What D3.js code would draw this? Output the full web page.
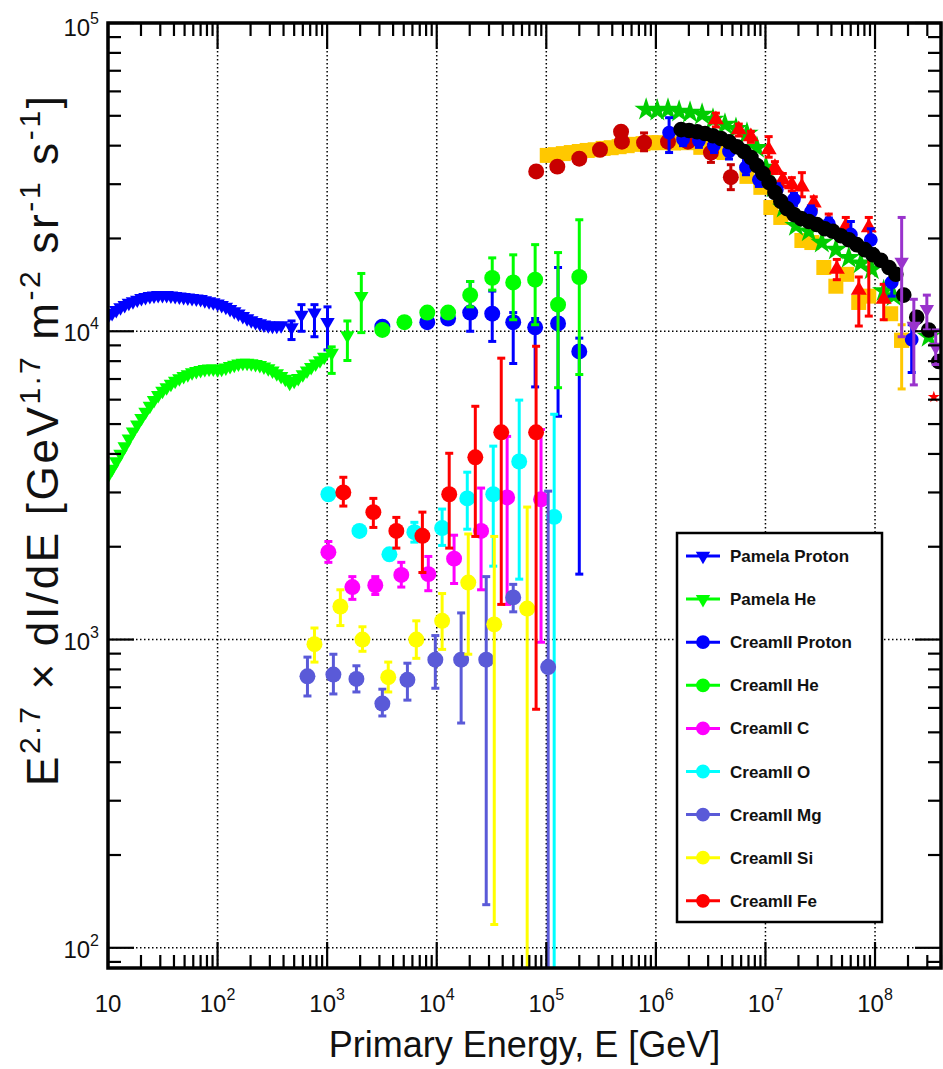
<!DOCTYPE html>
<html>
<head>
<meta charset="utf-8">
<script src="https://cdn.jsdelivr.net/npm/d3@7"></script>
<style>
  html, body { margin: 0; padding: 0; background: #fff; }
  svg { display: block; font-family: "Liberation Sans", Arial, Helvetica, sans-serif; }
</style>
</head>
<body>
<div id="chart"></div>
<script>
// ---- axes ----
const xDomain = [10, 4e8];
const yDomain = [86, 1e5];
const xLabelExp = [1, 2, 3, 4, 5, 6, 7, 8];
const yLabelExp = [2, 3, 4, 5];
const xGridExp = [2, 3, 4, 5, 6, 7, 8];
const yGridExp = [2, 3, 4];

// ---- Pamela proton (dense part + points with errors) ----
const pamProtonE = [10, 10.9, 11.9, 13, 14.2, 15.5, 16.9, 18.5, 20.2, 22, 24.1, 26.3, 28.7, 31.4, 34.3, 37.5, 41, 44.8, 49, 53.5,
  58.5, 64, 70, 76.5, 83.6, 91.4, 100, 109, 119, 130, 142, 155, 170, 186, 203, 222, 243, 265, 290, 317, 347, 380];
const pamProtonV = [11200, 11450, 11700, 11950, 12150, 12350, 12500, 12650, 12800, 12900, 13000, 13050, 13100, 13100, 13100, 13050, 13000, 12950, 12900, 12850,
  12800, 12750, 12700, 12600, 12500, 12400, 12300, 12150, 12000, 11800, 11600, 11400, 11200, 11000, 10850, 10700, 10600, 10500, 10450, 10400, 10400, 10450];
const pamProtonTailE = [473, 583, 766, 1007];
const pamProtonTailV = [10300, 11300, 11500, 10700];
const pamProtonTailLo = [9400, 10000, 9600, 8700];
const pamProtonTailHi = [10800, 12200, 12200, 12000];

// ---- Pamela He ----
const pamHeE = [10, 10.9, 11.9, 13, 14.2, 15.5, 16.9, 18.5, 20.2, 22, 24.1, 26.3, 28.7, 31.4, 34.3, 37.5, 41, 44.8, 49, 53.5,
  58.5, 64, 70, 76.5, 83.6, 91.4, 100, 109, 119, 130, 142, 155, 170, 186, 203, 222, 243, 265, 290, 317, 347, 380,
  415, 455, 500, 545, 600, 655, 715, 785, 860, 940];
const pamHeV = [3400, 3580, 3780, 4000, 4230, 4480, 4720, 4980, 5230, 5480, 5730, 5980, 6200, 6400, 6580, 6750, 6900, 7030, 7150, 7250,
  7350, 7420, 7480, 7530, 7560, 7560, 7520, 7550, 7620, 7700, 7780, 7850, 7900, 7900, 7870, 7820, 7760, 7680, 7580, 7450, 7300, 7150,
  7000, 6800, 6900, 7050, 7250, 7450, 7650, 7850, 8050, 8250];
const pamHeTailE = [1100, 1530, 2050];
const pamHeTailV = [8500, 9700, 13000];
const pamHeTailLo = [7300, 8040, 9900];
const pamHeTailHi = [8900, 10800, 15400];

// ---- CREAM II ----
const crProtonE = [3190, 8200, 12700, 20200, 32100, 49900, 79100, 128000, 200000];
const crProtonV = [10350, 10700, 11000, 11500, 11400, 10700, 10300, 10600, 8600];
const crProtonLo = [null, null, null, 10000, 9270, 7860, 6600, 5300, 1630];
const crProtonHi = [null, null, null, 14500, 13500, 11500, 11000, 16100, 9500];

const crHeE = [3190, 5070, 8200, 12700, 20200, 32100, 49900, 79100, 128000, 200000];
const crHeV = [10100, 10700, 11500, 11500, 13100, 14900, 14400, 14700, 12200, 15000];
const crHeLo = [null, null, null, null, 12000, 13600, 10900, 10500, 6560, 7240];
const crHeHi = [null, null, null, null, 14500, 17300, 17700, 19100, 18000, 23000];

const crCE = [1026, 1698, 2750, 4750, 8380, 14400, 25400, 43900, 89500];
const crCV = [1920, 1480, 1500, 1620, 1630, 1830, 2250, 2890, 2850];
const crCLo = [1780, 1350, 1400, 1480, 1440, 1520, 1450, 1300, 980];
const crCHi = [2080, 1600, 1600, 1780, 1860, 2180, 3100, 4560, 4800];

const crOE = [1026, 1970, 3700, 6250, 11200, 19000, 32800, 56600, 118000];
const crOV = [2960, 2250, 1890, 2230, 2300, 2870, 2960, 3780, 2500];
const crOLo = [null, null, null, 2070, 2020, 2280, 1730, 1570, 10];
const crOHi = [null, null, null, 2400, 2650, 3490, 4240, 5980, 5380];

const crMgE = [661, 1140, 1850, 3190, 5400, 9710, 16700, 28300, 49900, 104000];
const crMgV = [760, 770, 745, 620, 740, 860, 860, 860, 1370, 814];
const crMgLo = [656, 666, 676, 565, 636, 695, 536, 138, 1230, 10];
const crMgHi = [877, 896, 822, 690, 838, 1030, 1220, 1600, 1510, 3030];

const crSiE = [766, 1320, 2100, 3610, 6510, 11200, 19400, 33500, 66900];
const crSiV = [966, 1280, 1000, 755, 1000, 1150, 1530, 1120, 1260];
const crSiLo = [845, 1110, 916, 676, 869, 929, 896, 119, 10];
const crSiHi = [1090, 1450, 1100, 845, 1150, 1410, 2200, 2160, 2690];

const crFeE = [1405, 2640, 4280, 7400, 13000, 22500, 38800, 80700];
const crFeV = [3000, 2590, 2250, 2170, 2960, 3900, 4700, 4700];
const crFeLo = [2710, 2310, 1980, 1650, 1980, 2160, 1300, 594];
const crFeHi = [3360, 2870, 2490, 2590, 4020, 5710, 8180, 8940];

// ---- knee-region data (not in legend) ----
const orangeE = [1.02e5, 1.21e5, 1.43e5, 1.69e5, 2.0e5, 2.36e5, 2.79e5, 3.30e5, 3.91e5, 4.62e5, 5.47e5, 6.46e5, 7.64e5, 9.04e5, 1.07e6,
  1.45e6, 1.92e6, 2.57e6, 3.53e6, 4.19e6, 6.78e6, 9.08e6, 1.12e7, 1.38e7, 2.15e7, 2.65e7, 3.41e7, 4.39e7, 5.52e7, 7.10e7, 8.77e7, 1.39e8, 1.75e8];
const orangeV = [3.72e4, 3.74e4, 3.77e4, 3.80e4, 3.83e4, 3.86e4, 3.88e4, 3.92e4, 3.94e4, 3.97e4, 4.0e4, 4.04e4, 4.06e4, 4.09e4, 4.09e4,
  4.08e4, 4.09e4, 3.95e4, 3.83e4, 3.80e4, 3.18e4, 2.93e4, 2.52e4, 2.34e4, 1.97e4, 1.94e4, 1.61e4, 1.40e4, 1.53e4, 1.24e4, 1.30e4, 1.14e4, 9.35e3];
const orangeTailE = [1.75e8];
const orangeTailV = [9.35e3];
const orangeTailLo = [6.5e3];
const orangeTailHi = [1.05e4];

const darkRedE = [8.09e4, 1.26e5, 2.0e5, 3.09e5, 4.81e5, 4.9e5, 7.8e5, 1.29e6, 1.96e6, 3.18e6, 4.83e6];
const darkRedV = [3.30e4, 3.42e4, 3.63e4, 3.88e4, 4.44e4, 4.12e4, 4.09e4, 4.12e4, 4.12e4, 3.80e4, 3.16e4];
const darkRedLo = [3.22e4, 3.35e4, 3.55e4, 3.78e4, 4.30e4, 3.98e4, 3.85e4, 3.98e4, 3.98e4, 3.53e4, 2.88e4];
const darkRedHi = [3.38e4, 3.50e4, 3.72e4, 3.98e4, 4.60e4, 4.26e4, 4.40e4, 4.28e4, 4.26e4, 4.03e4, 3.47e4];

const starE = [8.15e5, 1.03e6, 1.29e6, 1.63e6, 2.05e6, 2.64e6, 3.32e6, 4.27e6, 5.38e6, 6.78e6, 8.36e6, 1.01e7, 1.19e7, 1.47e7, 1.90e7,
  2.49e7, 3.27e7, 4.39e7, 5.76e7, 7.41e7, 9.33e7, 1.20e8, 1.48e8, 3.09e8];
const starV = [5.24e4, 5.20e4, 5.24e4, 5.16e4, 5.12e4, 5.05e4, 4.86e4, 4.68e4, 4.54e4, 4.38e4, 3.94e4, 3.40e4, 2.93e4, 2.52e4, 2.20e4,
  2.11e4, 1.94e4, 1.84e4, 1.73e4, 1.66e4, 1.59e4, 1.35e4, 1.30e4, 9.6e3];

const redTriE = [3.53e6, 5.71e6, 7.36e6, 1.07e7, 1.22e7, 1.44e7, 1.74e7, 2.15e7, 2.76e7, 3.78e7, 5.41e7, 8.77e7, 4.48e7, 7.11e7, 1.20e8];
const redTriV = [4.86e4, 4.51e4, 4.28e4, 3.88e4, 3.40e4, 3.10e4, 2.99e4, 2.94e4, 2.61e4, 2.27e4, 2.19e4, 2.17e4, 1.59e4, 1.36e4, 1.27e4];
const redTriLo = [4.6e4, 4.3e4, 4.1e4, 3.67e4, 3.25e4, 2.95e4, 2.85e4, 2.73e4, 2.48e4, 2.15e4, 2.09e4, 1.12e4, 1.47e4, 1.04e4, 1.09e4];
const redTriHi = [5.1e4, 4.7e4, 4.45e4, 4.28e4, 3.55e4, 3.25e4, 3.15e4, 3.27e4, 2.73e4, 2.40e4, 2.34e4, 2.34e4, 1.71e4, 1.50e4, 1.42e4];

const blueE = [1.32e6, 1.77e6, 2.47e6, 3.39e6, 4.65e6, 6.64e6, 8.71e6, 1.27e7, 1.82e7, 2.60e7, 3.79e7, 6.02e7, 9.15e7, 1.42e8, 2.16e8];
const blueV = [4.41e4, 4.19e4, 4.15e4, 4.0e4, 3.83e4, 3.40e4, 3.10e4, 2.88e4, 2.68e4, 2.44e4, 2.23e4, 2.06e4, 1.98e4, 1.44e4, 9.4e3];
const blueLo = [3.80e4, 4.0e4, 3.95e4, 3.8e4, 3.62e4, 3.22e4, 2.95e4, 2.75e4, 2.56e4, 2.33e4, 2.13e4, 1.90e4, 1.83e4, 1.30e4, 7.35e3];
const blueHi = [4.93e4, 4.4e4, 4.35e4, 4.2e4, 4.02e4, 3.58e4, 3.25e4, 3.01e4, 2.80e4, 2.55e4, 2.33e4, 2.27e4, 2.15e4, 1.58e4, 1.05e4];

const blackE = [1.70e6, 2.01e6, 2.38e6, 2.81e6, 3.32e6, 3.93e6, 4.65e6, 5.50e6, 6.37e6, 7.38e6, 8.36e6, 9.48e6, 1.08e7, 1.22e7, 1.38e7,
  1.57e7, 1.82e7, 2.11e7, 2.49e7, 2.94e7, 3.48e7, 4.12e7, 4.88e7, 5.77e7, 6.82e7, 8.07e7, 9.55e7, 1.13e8, 1.34e8, 1.55e8, 1.83e8, 2.40e8,
  3.09e8, 3.82e8];
const blackV = [4.51e4, 4.48e4, 4.44e4, 4.38e4, 4.31e4, 4.22e4, 4.12e4, 3.97e4, 3.83e4, 3.66e4, 3.45e4, 3.25e4, 3.04e4, 2.82e4, 2.64e4,
  2.50e4, 2.39e4, 2.32e4, 2.27e4, 2.22e4, 2.15e4, 2.11e4, 2.04e4, 1.98e4, 1.91e4, 1.84e4, 1.77e4, 1.70e4, 1.61e4, 1.53e4, 1.31e4, 1.11e4,
  1.01e4, 7.98e3];

const purpleE = [1.75e8, 2.26e8, 2.97e8, 3.58e8];
const purpleV = [1.68e4, 1.04e4, 1.18e4, 8.9e3];
const purpleLo = [9.6e3, 6.7e3, 1.01e4, 7.8e3];
const purpleHi = [2.34e4, 1.27e4, 1.31e4, 1.01e4];

const redStarE = [3.44e8];
const redStarV = [6.12e3];

// ---- legend ----
const legendNames = ['Pamela Proton', 'Pamela He', 'CreamII Proton', 'CreamII He', 'CreamII C', 'CreamII O', 'CreamII Mg', 'CreamII Si', 'CreamII Fe'];
const legendColors = ['#0000ff', '#00ff00', '#0000ff', '#00ff00', '#ff00ff', '#00ffff', '#5a5ad8', '#ffff00', '#ff0000'];
const legendShapes = ['tridown', 'tridown', 'circle', 'circle', 'circle', 'circle', 'circle', 'circle', 'circle'];

// ---------------------------------------------------------------------------
const width = 943, height = 1069;
const frame = {left: 108, right: 941, top: 23, bottom: 968};

const x = d3.scaleLog().domain(xDomain).range([frame.left, frame.right]);
const y = d3.scaleLog().domain(yDomain).range([frame.bottom, frame.top]);

const svg = d3.select('#chart').append('svg')
  .attr('width', width)
  .attr('height', height);

svg.append('rect').attr('width', width).attr('height', height).attr('fill', '#fff');

svg.append('defs').append('clipPath')
  .attr('id', 'plot-clip')
  .append('rect')
  .attr('x', frame.left)
  .attr('y', frame.top)
  .attr('width', frame.right - frame.left)
  .attr('height', frame.bottom - frame.top);

// dotted grid at decades
const grid = svg.append('g').attr('class', 'grid')
  .attr('stroke', '#000').attr('stroke-width', 1.5).attr('stroke-dasharray', '1.5,2.5');
xGridExp.forEach(function(e) {
  grid.append('line').attr('x1', x(Math.pow(10, e))).attr('x2', x(Math.pow(10, e)))
    .attr('y1', frame.top).attr('y2', frame.bottom);
});
yGridExp.forEach(function(e) {
  grid.append('line').attr('y1', y(Math.pow(10, e))).attr('y2', y(Math.pow(10, e)))
    .attr('x1', frame.left).attr('x2', frame.right);
});

// marker shapes
const shapes = {
  circle: d3.symbol().type(d3.symbolCircle).size(200),
  circleMid: d3.symbol().type(d3.symbolCircle).size(150),
  circleBig: d3.symbol().type(d3.symbolCircle).size(190),
  tridown: d3.symbol().type(d3.symbolTriangle).size(90),
  triup: d3.symbol().type(d3.symbolTriangle).size(110),
  square: d3.symbol().type(d3.symbolSquare).size(225),
  star: d3.symbol().type(d3.symbolStar).size(170),
  starSmall: d3.symbol().type(d3.symbolStar).size(45)
};

const plot = svg.append('g').attr('clip-path', 'url(#plot-clip)');

function drawSeries(E, V, lo, hi, color, shape) {
  const g = plot.append('g');
  if (lo && hi) {
    E.forEach(function(e, i) {
      if (lo[i] == null || hi[i] == null) return;
      const cx = x(e);
      const y1 = y(Math.max(lo[i], 1)), y2 = y(hi[i]);
      g.append('line').attr('x1', cx).attr('x2', cx).attr('y1', y1).attr('y2', y2)
        .attr('stroke', color).attr('stroke-width', 3);
      [y1, y2].forEach(function(yy) {
        g.append('line').attr('x1', cx - 4).attr('x2', cx + 4).attr('y1', yy).attr('y2', yy)
          .attr('stroke', color).attr('stroke-width', 3);
      });
    });
  }
  g.selectAll('path.m')
    .data(E)
    .enter()
    .append('path')
    .attr('class', 'm')
    .attr('d', shapes[shape])
    .attr('transform', function(e, i) {
      return 'translate(' + x(e) + ',' + y(V[i]) + ')' + (shape === 'tridown' ? ' rotate(180)' : '');
    })
    .attr('fill', color);
}

drawSeries(pamProtonE, pamProtonV, null, null, '#0000ff', 'tridown');
drawSeries(pamProtonTailE, pamProtonTailV, pamProtonTailLo, pamProtonTailHi, '#0000ff', 'tridown');
drawSeries(pamHeE, pamHeV, null, null, '#00ff00', 'tridown');
drawSeries(pamHeTailE, pamHeTailV, pamHeTailLo, pamHeTailHi, '#00ff00', 'tridown');
drawSeries(crProtonE, crProtonV, crProtonLo, crProtonHi, '#0000ff', 'circle');
drawSeries(crHeE, crHeV, crHeLo, crHeHi, '#00ff00', 'circle');
drawSeries(crCE, crCV, crCLo, crCHi, '#ff00ff', 'circle');
drawSeries(crOE, crOV, crOLo, crOHi, '#00ffff', 'circle');
drawSeries(crMgE, crMgV, crMgLo, crMgHi, '#5a5ad8', 'circle');
drawSeries(crSiE, crSiV, crSiLo, crSiHi, '#ffff00', 'circle');
drawSeries(crFeE, crFeV, crFeLo, crFeHi, '#ff0000', 'circle');

drawSeries(orangeE, orangeV, null, null, '#ffc800', 'square');
drawSeries(orangeTailE, orangeTailV, orangeTailLo, orangeTailHi, '#ffc800', 'square');
drawSeries(darkRedE, darkRedV, darkRedLo, darkRedHi, '#c80000', 'circle');
drawSeries(starE, starV, null, null, '#00cc00', 'star');
drawSeries(redTriE, redTriV, redTriLo, redTriHi, '#ff0000', 'triup');
drawSeries(blueE, blueV, blueLo, blueHi, '#0000ff', 'circleMid');
drawSeries(blackE, blackV, null, null, '#000000', 'circleBig');
drawSeries(purpleE, purpleV, purpleLo, purpleHi, '#9933cc', 'tridown');
drawSeries(redStarE, redStarV, null, null, '#ff0000', 'starSmall');

// ticks on all four sides, pointing inwards
const ticks = svg.append('g').attr('stroke', '#000').attr('stroke-width', 2.2);
function logTicks(domain) {
  const out = [];
  const d0 = Math.floor(Math.log10(domain[0])), d1 = Math.ceil(Math.log10(domain[1]));
  for (let d = d0; d <= d1; d++) {
    for (let m = 1; m <= 9; m++) {
      const v = m * Math.pow(10, d);
      if (v >= domain[0] * 0.999 && v <= domain[1] * 1.001) out.push({v: v, major: m === 1});
    }
  }
  return out;
}
logTicks(xDomain).forEach(function(t) {
  const len = t.major ? 26 : 13;
  const px = x(t.v);
  ticks.append('line').attr('x1', px).attr('x2', px).attr('y1', frame.bottom).attr('y2', frame.bottom - len);
  ticks.append('line').attr('x1', px).attr('x2', px).attr('y1', frame.top).attr('y2', frame.top + len);
});
logTicks(yDomain).forEach(function(t) {
  const len = t.major ? 26 : 13;
  const py = y(t.v);
  ticks.append('line').attr('y1', py).attr('y2', py).attr('x1', frame.left).attr('x2', frame.left + len);
  ticks.append('line').attr('y1', py).attr('y2', py).attr('x1', frame.right).attr('x2', frame.right - len);
});

// frame
svg.append('rect')
  .attr('x', frame.left).attr('y', frame.top)
  .attr('width', frame.right - frame.left).attr('height', frame.bottom - frame.top)
  .attr('fill', 'none').attr('stroke', '#000').attr('stroke-width', 3.5);

// tick labels
const labels = svg.append('g').attr('fill', '#111');
xLabelExp.forEach(function(e) {
  const t = labels.append('text').attr('x', x(Math.pow(10, e))).attr('y', 1012)
    .attr('text-anchor', 'middle').style('font-size', '24px');
  t.append('tspan').text('10');
  if (e !== 1) t.append('tspan').attr('dy', -12).style('font-size', '16px').text(e);
});
yLabelExp.forEach(function(e) {
  const t = labels.append('text').attr('x', 99).attr('y', y(Math.pow(10, e)) + (e === 5 ? 13 : 10))
    .attr('text-anchor', 'end').style('font-size', '24px');
  t.append('tspan').text('10');
  t.append('tspan').attr('dy', -12).style('font-size', '16px').text(e);
});

// axis titles
svg.append('text')
  .attr('x', (frame.left + frame.right) / 2).attr('y', 1057)
  .attr('text-anchor', 'middle').style('font-size', '36px').attr('fill', '#111')
  .text('Primary Energy, E [GeV]');

const yt = svg.append('text')
  .attr('transform', 'translate(58,441) rotate(-90)')
  .attr('text-anchor', 'middle').style('font-size', '44px').attr('fill', '#111')
  .attr('textLength', 690).attr('lengthAdjust', 'spacing');
const ytParts = [['E', 0], ['2.7', 1], [' \u00d7 dI/dE [GeV', 0], ['1.7', 1], [' m', 0], ['-2', 1], [' sr', 0], ['-1', 1], [' s', 0], ['-1', 1], [']', 0]];
let prevSup = false;
ytParts.forEach(function(p) {
  const sup = p[1] === 1;
  const ts = yt.append('tspan').text(p[0]);
  if (sup) ts.style('font-size', '30px');
  if (sup && !prevSup) ts.attr('dy', -18);
  else if (!sup && prevSup) ts.attr('dy', 18);
  prevSup = sup;
});

// legend
const legend = svg.append('g').attr('class', 'legend');
legend.append('rect')
  .attr('x', 677).attr('y', 533).attr('width', 205).attr('height', 389)
  .attr('fill', '#fff').attr('stroke', '#000').attr('stroke-width', 2.5);
legendNames.forEach(function(name, i) {
  const ly = 556 + i * 43.1;
  legend.append('line').attr('x1', 686).attr('x2', 720).attr('y1', ly).attr('y2', ly)
    .attr('stroke', legendColors[i]).attr('stroke-width', 3);
  legend.append('path')
    .attr('d', legendShapes[i] === 'circle' ? d3.symbol().type(d3.symbolCircle).size(150)() : shapes.tridown())
    .attr('transform', 'translate(703,' + ly + ')' + (legendShapes[i] === 'tridown' ? ' rotate(180)' : ''))
    .attr('fill', legendColors[i]);
  legend.append('text').attr('x', 730).attr('y', ly + 6)
    .style('font-size', '17px').style('font-weight', 'bold').attr('fill', '#111')
    .text(name);
});
</script>
</body>
</html>
